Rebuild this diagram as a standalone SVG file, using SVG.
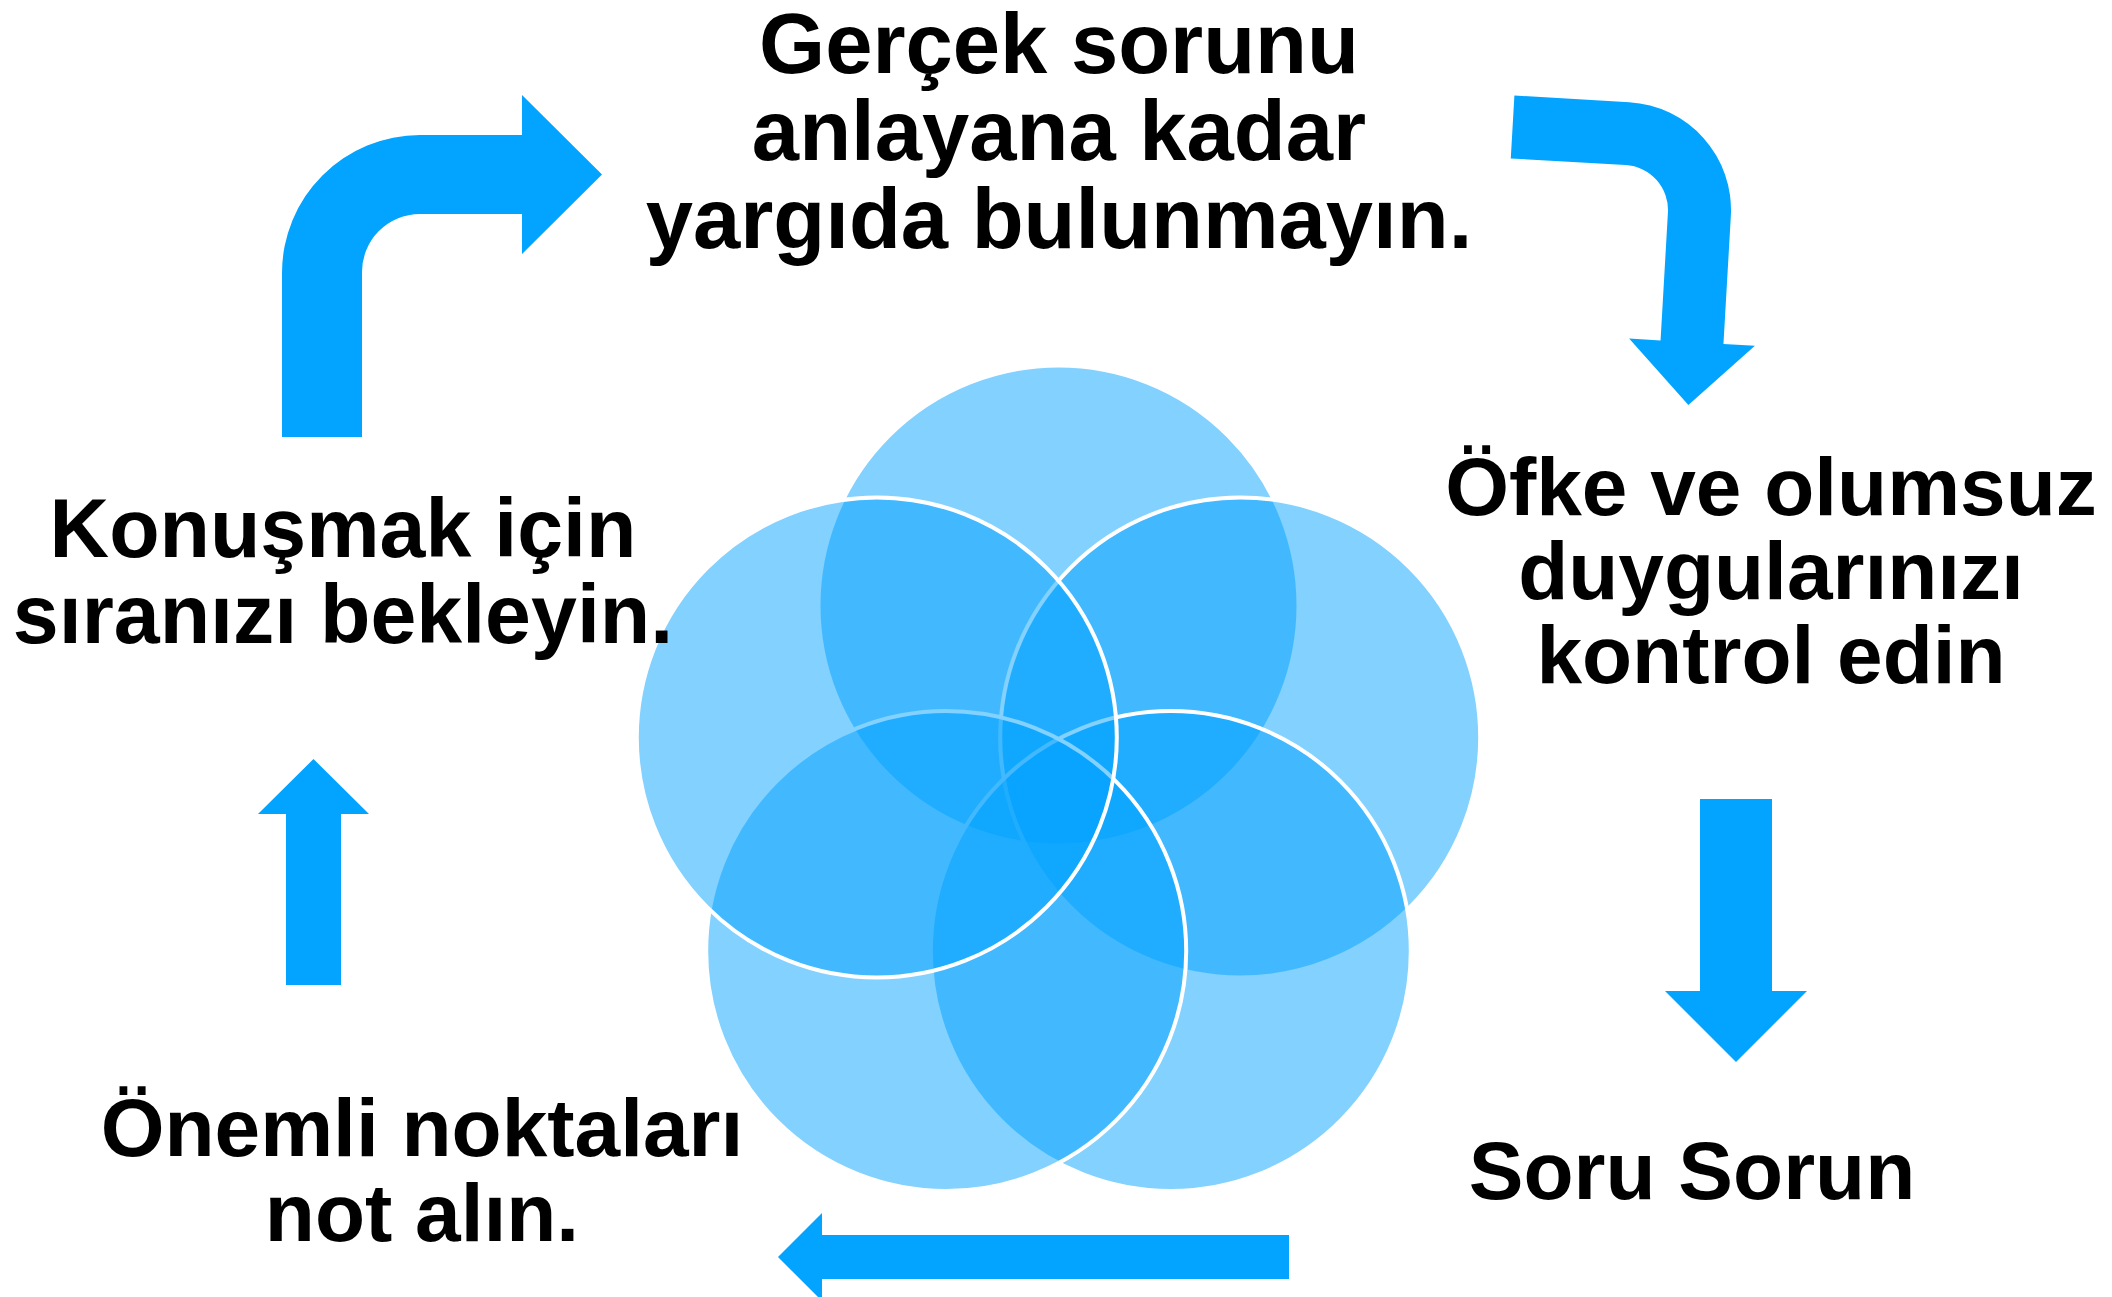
<svg xmlns="http://www.w3.org/2000/svg" width="2112" height="1297" viewBox="0 0 2112 1297">
<style>
.lbl{font-family:"Liberation Sans",Arial,sans-serif;font-weight:bold;fill:#000;text-anchor:middle}
.arr{fill:#02A4FF}
.c{fill:#00A2FF;fill-opacity:0.49;stroke:#fff;stroke-width:4}
</style>
<rect width="2112" height="1297" fill="#fff"/>
<g id="venn">
<circle class="c" cx="1058.5" cy="605.5" r="240"/>
<circle class="c" cx="1240.2" cy="737.5" r="240"/>
<circle class="c" cx="1170.8" cy="951" r="240"/>
<circle class="c" cx="946.2" cy="951" r="240"/>
<circle class="c" cx="876.8" cy="737.5" r="240"/>
</g>
<g id="connectors">
<path class="arr" d="M282,437 L282,273 A138,138 0 0 1 420,135 L522,135 L522,95 L602,174.5 L522,254 L522,214 L420,214 A58,58 0 0 0 362,273 L362,437 Z"/>
<path class="arr" transform="translate(1623,210) rotate(3.3)" d="M-115,-108 L0,-108 A108,108 0 0 1 108,0 L108,128 L139.5,128 L76.5,191 L13.5,128 L45,128 L45,0 A45,45 0 0 0 0,-45 L-115,-45 Z"/>
<path class="arr" d="M1700,799 L1772,799 L1772,991 L1807,991 L1736,1062 L1665,991 L1700,991 Z"/>
<path class="arr" d="M1289,1235 L1289,1279 L822,1279 L822,1301 L778,1257 L822,1213 L822,1235 Z"/>
<path class="arr" d="M286,985 L286,814 L258,814 L313.5,759 L369,814 L341,814 L341,985 Z"/>
</g>
<g id="node-top">
<text class="lbl" font-size="85" x="1059" y="73">Gerçek sorunu</text>
<text class="lbl" font-size="85" x="1059" y="160">anlayana kadar</text>
<text class="lbl" font-size="85" x="1059" y="248">yargıda bulunmayın.</text>
</g>
<g id="node-right">
<text class="lbl" font-size="82" x="1771" y="515">Öfke ve olumsuz</text>
<text class="lbl" font-size="82" x="1771" y="599">duygularınızı</text>
<text class="lbl" font-size="82" x="1771" y="683">kontrol edin</text>
</g>
<g id="node-bottom-right">
<text class="lbl" font-size="82" x="1692" y="1199">Soru Sorun</text>
</g>
<g id="node-bottom-left">
<text class="lbl" font-size="82" x="422" y="1156">Önemli noktaları</text>
<text class="lbl" font-size="82" x="422" y="1241">not alın.</text>
</g>
<g id="node-left">
<text class="lbl" font-size="82.5" x="343" y="557">Konuşmak için</text>
<text class="lbl" font-size="82.5" x="343" y="643">sıranızı bekleyin.</text>
</g>
</svg>
